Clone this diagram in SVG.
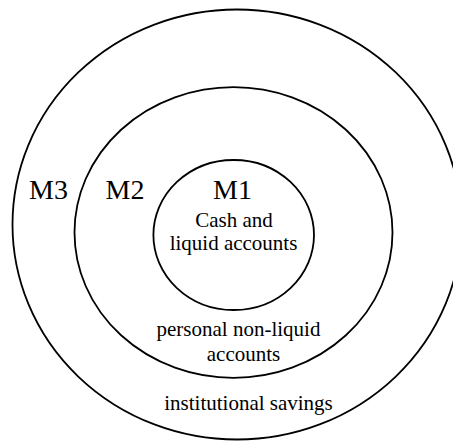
<svg xmlns="http://www.w3.org/2000/svg" width="453" height="441" viewBox="0 0 453 441">
  <style>
    .ring { fill: none; stroke: #000; stroke-width: 1.8; }
    .big { font-family: "Liberation Serif", "Times New Roman", serif; font-size: 28px; fill: #000; text-anchor: middle; }
    .small { font-family: "Liberation Serif", "Times New Roman", serif; font-size: 21px; fill: #000; text-anchor: middle; }
  </style>
  <rect width="453" height="441" fill="#fff"/>

  <!-- M3: broadest money supply -->
  <g id="m3">
    <ellipse class="ring" cx="237" cy="224.5" rx="224.5" ry="215"/>
    <text class="big" x="48.5" y="198.5">M3</text>
    <text class="small" x="248.5" y="409.5">institutional savings</text>
  </g>

  <!-- M2 -->
  <g id="m2">
    <ellipse class="ring" cx="233.5" cy="232.5" rx="159" ry="145.3"/>
    <text class="big" x="125" y="198.5">M2</text>
    <text class="small" x="238.5" y="336">personal non-liquid</text>
    <text class="small" x="243.5" y="360.5">accounts</text>
  </g>

  <!-- M1: narrowest money supply -->
  <g id="m1">
    <ellipse class="ring" cx="233.7" cy="235" rx="80.3" ry="75"/>
    <text class="big" x="232.5" y="198.5">M1</text>
    <text class="small" x="234" y="226.5">Cash and</text>
    <text class="small" x="233.5" y="250">liquid accounts</text>
  </g>
</svg>
